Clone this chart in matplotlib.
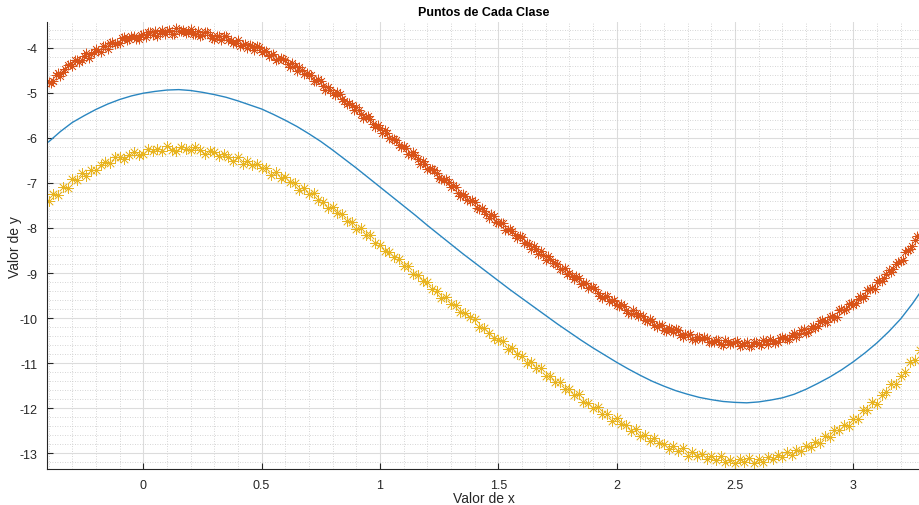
import matplotlib.pyplot as plt
from matplotlib.ticker import MultipleLocator, FormatStrFormatter

plt.rcParams['font.family'] = ['Liberation Sans', 'DejaVu Sans']

# frontera (linea azul), leida cada 0.05
x_line = [-0.40, -0.35, -0.30, -0.25, -0.20, -0.15, -0.10, -0.05, 0.00, 0.05,
          0.10, 0.15, 0.20, 0.25, 0.30, 0.35, 0.40, 0.45, 0.50, 0.55,
          0.60, 0.65, 0.70, 0.75, 0.80, 0.85, 0.90, 0.95, 1.00, 1.05,
          1.10, 1.15, 1.20, 1.25, 1.30, 1.35, 1.40, 1.45, 1.50, 1.55,
          1.60, 1.65, 1.70, 1.75, 1.80, 1.85, 1.90, 1.95, 2.00, 2.05,
          2.10, 2.15, 2.20, 2.25, 2.30, 2.35, 2.40, 2.45, 2.50, 2.55,
          2.60, 2.65, 2.70, 2.75, 2.80, 2.85, 2.90, 2.95, 3.00, 3.05,
          3.10, 3.15, 3.20, 3.25, 3.30]
y_line = [-6.09, -5.86, -5.66, -5.51, -5.37, -5.25, -5.15, -5.07, -5.01, -4.97,
          -4.94, -4.93, -4.95, -4.99, -5.04, -5.10, -5.18, -5.27, -5.36, -5.48,
          -5.61, -5.75, -5.91, -6.08, -6.27, -6.47, -6.67, -6.88, -7.09, -7.30,
          -7.51, -7.72, -7.94, -8.15, -8.36, -8.57, -8.77, -8.97, -9.17, -9.37,
          -9.56, -9.75, -9.94, -10.13, -10.31, -10.49, -10.66, -10.82, -10.98, -11.13,
          -11.27, -11.40, -11.51, -11.61, -11.69, -11.76, -11.81, -11.85, -11.87, -11.88,
          -11.86, -11.82, -11.77, -11.69, -11.58, -11.45, -11.31, -11.15, -10.97, -10.77,
          -10.55, -10.30, -10.02, -9.68, -9.30]

# puntos de cada clase
x_pts = [-0.40, -0.38, -0.36, -0.34, -0.32, -0.30, -0.28, -0.26, -0.24, -0.22,
         -0.20, -0.18, -0.16, -0.14, -0.12, -0.10, -0.08, -0.06, -0.04, -0.02,
         0.00, 0.02, 0.04, 0.06, 0.08, 0.10, 0.12, 0.14, 0.16, 0.18,
         0.20, 0.22, 0.24, 0.26, 0.28, 0.30, 0.32, 0.34, 0.36, 0.38,
         0.40, 0.42, 0.44, 0.46, 0.48, 0.50, 0.52, 0.54, 0.56, 0.58,
         0.60, 0.62, 0.64, 0.66, 0.68, 0.70, 0.72, 0.74, 0.76, 0.78,
         0.80, 0.82, 0.84, 0.86, 0.88, 0.90, 0.92, 0.94, 0.96, 0.98,
         1.00, 1.02, 1.04, 1.06, 1.08, 1.10, 1.12, 1.14, 1.16, 1.18,
         1.20, 1.22, 1.24, 1.26, 1.28, 1.30, 1.32, 1.34, 1.36, 1.38,
         1.40, 1.42, 1.44, 1.46, 1.48, 1.50, 1.52, 1.54, 1.56, 1.58,
         1.60, 1.62, 1.64, 1.66, 1.68, 1.70, 1.72, 1.74, 1.76, 1.78,
         1.80, 1.82, 1.84, 1.86, 1.88, 1.90, 1.92, 1.94, 1.96, 1.98,
         2.00, 2.02, 2.04, 2.06, 2.08, 2.10, 2.12, 2.14, 2.16, 2.18,
         2.20, 2.22, 2.24, 2.26, 2.28, 2.30, 2.32, 2.34, 2.36, 2.38,
         2.40, 2.42, 2.44, 2.46, 2.48, 2.50, 2.52, 2.54, 2.56, 2.58,
         2.60, 2.62, 2.64, 2.66, 2.68, 2.70, 2.72, 2.74, 2.76, 2.78,
         2.80, 2.82, 2.84, 2.86, 2.88, 2.90, 2.92, 2.94, 2.96, 2.98,
         3.00, 3.02, 3.04, 3.06, 3.08, 3.10, 3.12, 3.14, 3.16, 3.18,
         3.20, 3.22, 3.24, 3.26, 3.28]

y_clase1 = [-4.76, -4.74, -4.57, -4.54, -4.39, -4.41, -4.28, -4.27, -4.12, -4.13,
            -4.03, -4.09, -3.97, -3.89, -3.91, -3.89, -3.76, -3.80, -3.74, -3.81,
            -3.69, -3.65, -3.71, -3.73, -3.61, -3.64, -3.69, -3.57, -3.63, -3.68,
            -3.59, -3.69, -3.74, -3.66, -3.71, -3.80, -3.74, -3.75, -3.84, -3.89,
            -3.83, -3.93, -4.01, -3.97, -3.96, -4.09, -4.07, -4.16, -4.28, -4.23,
            -4.27, -4.42, -4.41, -4.43, -4.58, -4.60, -4.74, -4.70, -4.85, -4.87,
            -5.01, -4.98, -5.14, -5.26, -5.27, -5.31, -5.48, -5.53, -5.58, -5.77,
            -5.79, -5.82, -6.00, -6.02, -6.15, -6.18, -6.36, -6.32, -6.48, -6.51,
            -6.69, -6.70, -6.77, -6.92, -6.92, -7.08, -7.09, -7.28, -7.28, -7.40,
            -7.43, -7.59, -7.62, -7.77, -7.74, -7.90, -7.89, -8.05, -8.07, -8.23,
            -8.21, -8.34, -8.46, -8.47, -8.52, -8.70, -8.68, -8.78, -8.90, -8.88,
            -8.99, -9.13, -9.10, -9.23, -9.33, -9.30, -9.44, -9.55, -9.51, -9.61,
            -9.72, -9.69, -9.81, -9.91, -9.88, -9.94, -10.05, -10.01, -10.16, -10.15,
            -10.26, -10.21, -10.30, -10.27, -10.41, -10.37, -10.47, -10.41, -10.47, -10.44,
            -10.54, -10.48, -10.58, -10.49, -10.58, -10.52, -10.61, -10.55, -10.62, -10.53,
            -10.58, -10.48, -10.57, -10.50, -10.53, -10.43, -10.46, -10.37, -10.42, -10.27,
            -10.33, -10.22, -10.21, -10.06, -10.08, -9.98, -9.99, -9.83, -9.83, -9.68,
            -9.71, -9.57, -9.56, -9.37, -9.34, -9.19, -9.17, -9.03, -8.98, -8.79,
            -8.74, -8.53, -8.47, -8.26, -8.17]

# la clase 1 tiene mas puntos: los intermedios
x_pts_b = [-0.39, -0.37, -0.35, -0.33, -0.31, -0.29, -0.27, -0.25, -0.23, -0.21,
           -0.19, -0.17, -0.15, -0.13, -0.11, -0.09, -0.07, -0.05, -0.03, -0.01,
           0.01, 0.03, 0.05, 0.07, 0.09, 0.11, 0.13, 0.15, 0.17, 0.19,
           0.21, 0.23, 0.25, 0.27, 0.29, 0.31, 0.33, 0.35, 0.37, 0.39,
           0.41, 0.43, 0.45, 0.47, 0.49, 0.51, 0.53, 0.55, 0.57, 0.59,
           0.61, 0.63, 0.65, 0.67, 0.69, 0.71, 0.73, 0.75, 0.77, 0.79,
           0.81, 0.83, 0.85, 0.87, 0.89, 0.91, 0.93, 0.95, 0.97, 0.99,
           1.01, 1.03, 1.05, 1.07, 1.09, 1.11, 1.13, 1.15, 1.17, 1.19,
           1.21, 1.23, 1.25, 1.27, 1.29, 1.31, 1.33, 1.35, 1.37, 1.39,
           1.41, 1.43, 1.45, 1.47, 1.49, 1.51, 1.53, 1.55, 1.57, 1.59,
           1.61, 1.63, 1.65, 1.67, 1.69, 1.71, 1.73, 1.75, 1.77, 1.79,
           1.81, 1.83, 1.85, 1.87, 1.89, 1.91, 1.93, 1.95, 1.97, 1.99,
           2.01, 2.03, 2.05, 2.07, 2.09, 2.11, 2.13, 2.15, 2.17, 2.19,
           2.21, 2.23, 2.25, 2.27, 2.29, 2.31, 2.33, 2.35, 2.37, 2.39,
           2.41, 2.43, 2.45, 2.47, 2.49, 2.51, 2.53, 2.55, 2.57, 2.59,
           2.61, 2.63, 2.65, 2.67, 2.69, 2.71, 2.73, 2.75, 2.77, 2.79,
           2.81, 2.83, 2.85, 2.87, 2.89, 2.91, 2.93, 2.95, 2.97, 2.99,
           3.01, 3.03, 3.05, 3.07, 3.09, 3.11, 3.13, 3.15, 3.17, 3.19,
           3.21, 3.23, 3.25, 3.27]

y_clase1_b = [-4.78, -4.60, -4.63, -4.47, -4.37, -4.28, -4.31, -4.19, -4.22, -4.09,
              -4.07, -3.97, -4.02, -3.87, -3.90, -3.78, -3.82, -3.74, -3.81, -3.71,
              -3.76, -3.66, -3.62, -3.68, -3.69, -3.60, -3.70, -3.62, -3.60, -3.66,
              -3.70, -3.63, -3.72, -3.65, -3.78, -3.73, -3.84, -3.75, -3.83, -3.90,
              -3.96, -3.92, -3.93, -4.05, -3.99, -4.08, -4.19, -4.13, -4.26, -4.25,
              -4.37, -4.35, -4.52, -4.49, -4.56, -4.60, -4.74, -4.75, -4.93, -4.93,
              -5.05, -5.03, -5.19, -5.22, -5.38, -5.39, -5.55, -5.52, -5.70, -5.71,
              -5.89, -5.89, -6.02, -6.04, -6.21, -6.22, -6.37, -6.38, -6.57, -6.58,
              -6.70, -6.71, -6.90, -6.93, -6.98, -7.05, -7.22, -7.25, -7.38, -7.37,
              -7.56, -7.56, -7.68, -7.69, -7.87, -7.88, -8.05, -8.02, -8.16, -8.18,
              -8.34, -8.36, -8.39, -8.58, -8.59, -8.62, -8.78, -8.79, -8.92, -9.03,
              -9.06, -9.07, -9.25, -9.23, -9.31, -9.35, -9.51, -9.50, -9.63, -9.59,
              -9.74, -9.73, -9.88, -9.82, -9.96, -9.95, -10.07, -10.06, -10.20, -10.15,
              -10.29, -10.24, -10.25, -10.37, -10.36, -10.36, -10.48, -10.43, -10.42, -10.54,
              -10.54, -10.48, -10.60, -10.53, -10.56, -10.51, -10.60, -10.53, -10.61, -10.54,
              -10.59, -10.51, -10.47, -10.56, -10.45, -10.44, -10.46, -10.34, -10.36, -10.24,
              -10.31, -10.17, -10.18, -10.04, -10.08, -9.96, -9.97, -9.79, -9.79, -9.67,
              -9.66, -9.50, -9.50, -9.36, -9.35, -9.16, -9.11, -8.93, -8.92, -8.75,
              -8.70, -8.49, -8.39, -8.18]

y_clase2 = [-7.41, -7.25, -7.26, -7.10, -7.11, -6.92, -6.93, -6.78, -6.84, -6.72,
            -6.72, -6.61, -6.54, -6.56, -6.43, -6.42, -6.48, -6.38, -6.32, -6.37,
            -6.35, -6.24, -6.29, -6.25, -6.30, -6.19, -6.26, -6.29, -6.20, -6.25,
            -6.28, -6.21, -6.28, -6.35, -6.29, -6.32, -6.41, -6.35, -6.43, -6.51,
            -6.42, -6.57, -6.52, -6.61, -6.58, -6.67, -6.67, -6.82, -6.76, -6.89,
            -6.86, -6.99, -7.01, -7.15, -7.12, -7.25, -7.22, -7.38, -7.42, -7.55,
            -7.54, -7.66, -7.68, -7.85, -7.87, -8.03, -8.01, -8.16, -8.16, -8.34,
            -8.37, -8.52, -8.53, -8.65, -8.68, -8.84, -8.84, -9.02, -9.05, -9.17,
            -9.19, -9.35, -9.40, -9.55, -9.54, -9.68, -9.70, -9.87, -9.88, -9.98,
            -10.01, -10.19, -10.21, -10.34, -10.44, -10.48, -10.50, -10.69, -10.66, -10.80,
            -10.83, -10.99, -10.97, -11.10, -11.10, -11.29, -11.29, -11.42, -11.41, -11.58,
            -11.57, -11.70, -11.69, -11.87, -11.88, -11.99, -11.97, -12.13, -12.13, -12.28,
            -12.22, -12.35, -12.37, -12.50, -12.47, -12.61, -12.59, -12.73, -12.66, -12.78,
            -12.79, -12.90, -12.84, -12.95, -12.89, -13.05, -12.98, -13.05, -13.01, -13.13,
            -13.07, -13.15, -13.07, -13.20, -13.14, -13.22, -13.13, -13.19, -13.11, -13.22,
            -13.13, -13.20, -13.08, -13.12, -13.04, -13.09, -12.98, -13.04, -12.93, -12.95,
            -12.83, -12.87, -12.75, -12.78, -12.62, -12.64, -12.48, -12.49, -12.37, -12.39,
            -12.25, -12.23, -12.05, -12.04, -11.87, -11.90, -11.71, -11.65, -11.47, -11.46,
            -11.28, -11.20, -10.98, -10.93, -10.71]

fig = plt.figure(figsize=(9.2, 5.06), dpi=100)
ax = fig.add_axes([0.051, 0.071, 0.949, 0.883])

ax.plot(x_line, y_line, color='#2a86c0', linewidth=1.0)
ax.plot(x_pts + x_pts_b, y_clase1 + y_clase1_b, linestyle='none', marker=(8, 2, 0),
        markersize=7, markeredgewidth=0.5, color='#D95319')
ax.plot(x_pts, y_clase2, linestyle='none', marker=(8, 2, 0), markersize=7.5,
        markeredgewidth=0.5, color='#E8B421')

ax.set_xlim(-0.407, 3.282)
ax.set_ylim(-13.35, -3.436)
ax.xaxis.set_major_locator(MultipleLocator(0.5))
ax.xaxis.set_minor_locator(MultipleLocator(0.1))
ax.yaxis.set_major_locator(MultipleLocator(1))
ax.yaxis.set_minor_locator(MultipleLocator(0.2))
ax.xaxis.set_major_formatter(FormatStrFormatter('%g'))
ax.yaxis.set_major_formatter(FormatStrFormatter('%g'))

ax.grid(which='major', color='#dcdcdc', linewidth=0.8, linestyle='-')
ax.grid(which='minor', color='#c8c8c8', linewidth=0.6, linestyle=(0, (1, 2)))
ax.set_axisbelow(True)

for s in ['top', 'right']:
    ax.spines[s].set_visible(False)
for s in ['left', 'bottom']:
    ax.spines[s].set_color('#262626')
    ax.spines[s].set_linewidth(0.8)

ax.tick_params(which='major', direction='in', length=4, width=0.8,
               colors='#262626', labelsize=9, pad=7)
ax.tick_params(which='minor', length=0)

ax.set_title('Puntos de Cada Clase', fontsize=9, fontweight='bold', pad=5)
ax.set_xlabel('Valor de x', fontsize=10, color='#262626', labelpad=0)
ax.set_ylabel('Valor de y', fontsize=10, color='#262626', labelpad=-2)

fig.savefig('out.png', dpi=100)
